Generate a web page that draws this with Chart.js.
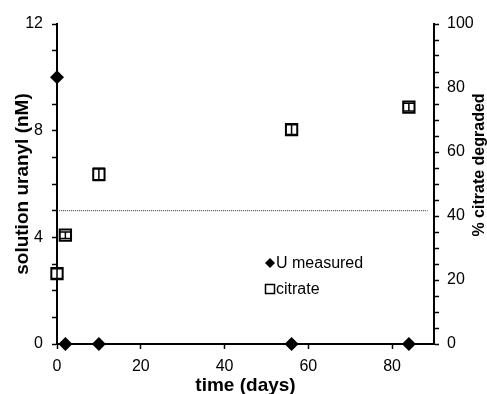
<!DOCTYPE html>
<html>
<head>
<meta charset="utf-8">
<script src="https://cdn.jsdelivr.net/npm/chart.js@4"></script>
<style>
  html, body { margin: 0; padding: 0; background: #fff; }
  #wrap { width: 487px; height: 394px; }
</style>
</head>
<body>
<div id="wrap"><canvas id="chart"></canvas></div>
<script>
// time (days)
const uDays = [0, 2, 10, 56, 84];
// solution uranyl (nM)
const uValues = [10, 0, 0, 0, 0];

const citDays = [0, 2, 10, 56, 84];
// % citrate degraded
const citValues = [22, 34, 53, 67, 74];
const citErrors = [1.5, 1.0, 1.9, 1.5, 1.2];

// dotted reference level (nM)
const refLevel = 5;
const refDays = [0.5, 88.5];

const xTicks = [0, 20, 40, 60, 80];
const leftLabels = [0, 4, 8, 12];
const rightLabels = [0, 20, 40, 60, 80, 100];

const FONT = "'Liberation Sans', Arial, Helvetica, sans-serif";

const errorBars = {
  id: 'errorBars',
  afterDatasetsDraw(chart) {
    const ctx = chart.ctx;
    const xs = chart.scales.x, ys = chart.scales.y1;
    ctx.save();
    ctx.strokeStyle = '#000';
    ctx.lineWidth = 1.5;
    citDays.forEach((d, i) => {
      const px = xs.getPixelForValue(d);
      const lo = ys.getPixelForValue(citValues[i] - citErrors[i]);
      const hi = ys.getPixelForValue(citValues[i] + citErrors[i]);
      ctx.beginPath();
      ctx.moveTo(px, lo); ctx.lineTo(px, hi);
      ctx.moveTo(px - 6, lo); ctx.lineTo(px + 6, lo);
      ctx.moveTo(px - 6, hi); ctx.lineTo(px + 6, hi);
      ctx.stroke();
    });
    ctx.restore();
  }
};

const extras = {
  id: 'extras',
  afterDraw(chart) {
    const ctx = chart.ctx;
    ctx.save();
    // right axis title, reads bottom to top
    ctx.translate(480, 165);
    ctx.rotate(-Math.PI / 2);
    ctx.fillStyle = '#000';
    ctx.font = 'bold 16px ' + FONT;
    ctx.textAlign = 'center';
    ctx.textBaseline = 'middle';
    ctx.fillText('% citrate degraded', 0, 0);
    ctx.restore();

    // legend inside the plot
    ctx.save();
    ctx.fillStyle = '#000';
    ctx.strokeStyle = '#000';
    ctx.font = '16px ' + FONT;
    ctx.textBaseline = 'middle';
    ctx.beginPath();
    ctx.moveTo(270, 258); ctx.lineTo(275, 263); ctx.lineTo(270, 268); ctx.lineTo(265, 263);
    ctx.closePath();
    ctx.fill();
    ctx.fillText(chart.data.datasets[0].label, 276, 264);
    ctx.lineWidth = 1.5;
    ctx.strokeRect(265.5, 284.5, 9, 9);
    ctx.fillText(chart.data.datasets[1].label, 276, 290);
    ctx.restore();
  }
};

new Chart(document.getElementById('chart'), {
  data: {
    datasets: [
      {
        type: 'scatter',
        label: 'U measured',
        data: uDays.map((d, i) => ({ x: d, y: uValues[i] })),
        yAxisID: 'y',
        pointStyle: 'rectRot',
        pointRadius: 7,
        pointBackgroundColor: '#000',
        pointBorderColor: '#000',
        pointBorderWidth: 0,
        clip: false
      },
      {
        type: 'scatter',
        label: 'citrate',
        data: citDays.map((d, i) => ({ x: d, y: citValues[i] })),
        yAxisID: 'y1',
        pointStyle: 'rect',
        pointRadius: 8,
        pointBackgroundColor: '#fff',
        pointBorderColor: '#000',
        pointBorderWidth: 2,
        clip: false
      },
      {
        type: 'line',
        label: 'level',
        data: refDays.map(d => ({ x: d, y: refLevel })),
        yAxisID: 'y',
        borderColor: '#333',
        borderWidth: 1,
        borderDash: [1, 1],
        pointRadius: 0,
        clip: false
      }
    ]
  },
  options: {
    responsive: true,
    maintainAspectRatio: false,
    animation: false,
    layout: { padding: { top: 24, left: 0, right: 0, bottom: 0 } },
    plugins: { legend: { display: false }, tooltip: { enabled: false } },
    scales: {
      x: {
        type: 'linear',
        min: 0, max: 90,
        afterFit(s) { s.height = 50; },
        afterBuildTicks(s) { s.ticks = xTicks.map(v => ({ value: v })); },
        border: { display: true, color: '#000', width: 2 },
        grid: { drawOnChartArea: false, tickLength: 5, tickWidth: 1.5, tickColor: '#000' },
        ticks: { color: '#000', font: { family: FONT, size: 16 }, padding: 8, maxRotation: 0, autoSkip: false },
        title: { display: true, text: 'time (days)', color: '#000',
                 font: { family: FONT, size: 19, weight: 'bold', lineHeight: 0.9 }, padding: { top: 0, bottom: 0 } }
      },
      y: {
        position: 'left',
        min: 0, max: 12,
        afterFit(s) { s.width = 57; },
        border: { display: true, color: '#000', width: 2 },
        grid: { drawOnChartArea: false, tickLength: 5, tickWidth: 1.5, tickColor: '#000' },
        ticks: {
          stepSize: 1, autoSkip: false, color: '#000', padding: 9,
          font: { family: FONT, size: 16 },
          callback: v => leftLabels.includes(v) ? String(v) : ''
        },
        title: { display: true, text: 'solution uranyl (nM)', color: '#000',
                 font: { family: FONT, size: 19, weight: 'bold' }, padding: { top: 11, bottom: 0 } }
      },
      y1: {
        position: 'right',
        min: 0, max: 100,
        afterFit(s) { s.width = 53; },
        border: { display: true, color: '#000', width: 2 },
        grid: { drawOnChartArea: false, tickLength: 5, tickWidth: 1.5, tickColor: '#000' },
        ticks: {
          stepSize: 5, autoSkip: false, color: '#000', padding: 8,
          font: { family: FONT, size: 16 },
          callback: v => rightLabels.includes(v) ? String(v) : ''
        }
      }
    }
  },
  plugins: [errorBars, extras]
});
</script>
</body>
</html>
